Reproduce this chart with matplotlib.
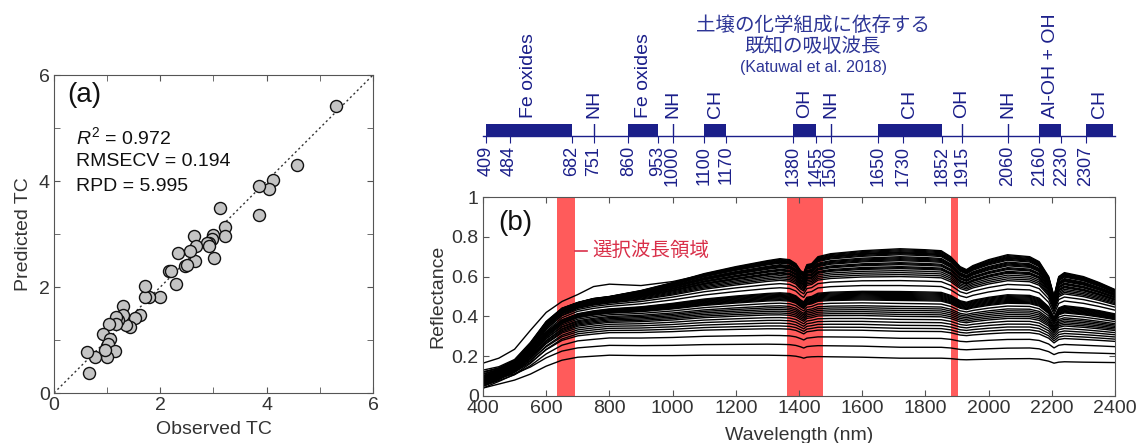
import numpy as np
import matplotlib
matplotlib.use("Agg")
import matplotlib.pyplot as plt
from matplotlib.ticker import MultipleLocator

plt.rcParams['font.family'] = ['Liberation Sans', 'Noto Sans CJK JP', 'DejaVu Sans']
plt.rcParams['mathtext.fontset'] = 'custom'
plt.rcParams['mathtext.rm'] = 'Liberation Sans'
plt.rcParams['mathtext.it'] = 'Liberation Sans:italic'

# --- (a) observed vs predicted TC ---
obs_tc = [5.31, 4.57, 4.11, 4.05, 3.86, 3.86, 3.12, 3.22, 3.22, 2.99, 2.97, 2.92, 2.87,
          2.91, 3.01, 2.63, 2.67, 2.66, 2.56, 2.34, 2.47, 2.51, 2.17, 2.21, 2.30, 1.99,
          1.78, 1.72, 1.72, 1.61, 1.52, 1.43, 1.35, 1.30, 1.29, 1.21, 1.16, 1.16, 1.03,
          0.92, 1.05, 0.99, 1.02, 1.14, 0.99, 0.77, 0.63, 0.66, 0.96]
pred_tc = [5.42, 4.30, 4.01, 3.85, 3.90, 3.35, 3.49, 3.14, 2.96, 2.98, 2.90, 2.83, 2.83,
           2.77, 2.55, 2.96, 2.78, 2.50, 2.68, 2.64, 2.39, 2.41, 2.31, 2.31, 2.05, 1.82,
           1.81, 1.82, 2.02, 1.47, 1.41, 1.24, 1.28, 1.65, 1.48, 1.37, 1.43, 1.31, 1.31,
           1.12, 1.02, 0.89, 0.93, 0.80, 0.68, 0.68, 0.77, 0.38, 0.82]
stats_lines = [r'$R^{\mathrm{2}}$ = 0.972', 'RMSECV = 0.194', 'RPD = 5.995']

# --- (b) spectra: knot wavelengths, top and bottom curve shapes, levels at 1720 nm ---
knots_nm = [400, 450, 500, 550, 600, 650, 700, 750, 800, 900, 1000, 1100, 1200, 1300,
            1340, 1370, 1390, 1405, 1415, 1425, 1440, 1460, 1500, 1600, 1720, 1800, 1850,
            1880, 1910, 1930, 1950, 2000, 2060, 2130, 2160, 2190, 2207, 2222, 2240, 2300,
            2350, 2400]
top_curve = [0.11, 0.13, 0.17, 0.26, 0.37, 0.44, 0.47, 0.49, 0.50, 0.53, 0.57, 0.615, 0.65,
             0.68, 0.69, 0.685, 0.665, 0.63, 0.62, 0.66, 0.665, 0.70, 0.715, 0.73, 0.74,
             0.735, 0.73, 0.70, 0.65, 0.635, 0.655, 0.685, 0.71, 0.70, 0.675, 0.60, 0.50,
             0.60, 0.62, 0.60, 0.57, 0.535]
bottom_curve = [0.04, 0.06, 0.08, 0.11, 0.15, 0.18, 0.195, 0.20, 0.205, 0.203, 0.203, 0.205,
                0.205, 0.205, 0.204, 0.203, 0.20, 0.195, 0.19, 0.195, 0.197, 0.198, 0.197,
                0.195, 0.19, 0.19, 0.19, 0.188, 0.183, 0.182, 0.183, 0.185, 0.187, 0.188,
                0.185, 0.175, 0.165, 0.17, 0.172, 0.17, 0.169, 0.168]
odd_curve = [0.165, 0.19, 0.235, 0.33, 0.42, 0.475, 0.51, 0.55, 0.562, 0.555, 0.575, 0.61,
             0.64, 0.665, 0.675, 0.67, 0.65, 0.615, 0.605, 0.645, 0.65, 0.685, 0.70, 0.715,
             0.72, 0.715, 0.71, 0.68, 0.635, 0.62, 0.64, 0.67, 0.695, 0.685, 0.66, 0.585,
             0.49, 0.585, 0.605, 0.585, 0.555, 0.52]
levels_1720 = [0.74, 0.735, 0.73, 0.725, 0.72, 0.715, 0.71, 0.70, 0.695, 0.69, 0.685, 0.68,
               0.67, 0.665, 0.66, 0.65, 0.645, 0.64, 0.63, 0.62, 0.61, 0.60,
               0.58, 0.555,
               0.525, 0.52, 0.515, 0.51, 0.505, 0.50, 0.495, 0.49, 0.485, 0.48,
               0.465, 0.45, 0.44, 0.43, 0.42, 0.41, 0.40, 0.385, 0.37, 0.355, 0.34, 0.325,
               0.29, 0.245, 0.19]
# reflectance of each spectrum at 400 nm (same order as levels_1720)
refl_400 = [0.12, 0.10, 0.13, 0.09, 0.11, 0.12, 0.08, 0.10, 0.11, 0.09, 0.12, 0.07,
            0.10, 0.08, 0.11, 0.09, 0.10, 0.07, 0.09, 0.08, 0.10, 0.06,
            0.09, 0.07,
            0.07, 0.09, 0.06, 0.08, 0.07, 0.10, 0.06, 0.08, 0.05, 0.09,
            0.07, 0.06, 0.08, 0.05, 0.07, 0.06, 0.05, 0.07, 0.05, 0.06, 0.04, 0.06,
            0.05, 0.07, 0.04]

sel_start = [635, 1363, 1881]
sel_end = [690, 1477, 1904]

# --- absorption bands (Katuwal et al. 2018) ---
bar_start = [409, 860, 1100, 1380, 1650, 2160, 2307]
bar_end = [682, 953, 1170, 1455, 1852, 2230, 2395]
bar_names = ['Fe oxides', 'Fe oxides', 'CH', 'OH', 'CH', 'Al-OH + OH', 'CH']
line_nm = [751, 1000, 1500, 1915, 2060]
line_names = ['NH', 'NH', 'NH', 'OH', 'NH']
band_ticks = [409, 484, 682, 751, 860, 953, 1000, 1100, 1170, 1380, 1455, 1500, 1650,
              1730, 1852, 1915, 2060, 2160, 2230, 2307]

navy = '#1b1f8a'
blue_txt = '#2d3596'
gray = '#333333'

fig = plt.figure(figsize=(11.38, 4.43), dpi=100)
W, H = 1138, 443

# ---------- (a) ----------
ax1 = fig.add_axes([54 / W, 1 - 393 / H, 319 / W, 318 / H])
ax1.plot([0, 6], [0, 6], ls=(0, (1.5, 2)), color='#333333', lw=1, zorder=1)
ax1.scatter(obs_tc, pred_tc, s=75, facecolor='#c4c4c4', edgecolor='#111111', lw=1, zorder=3)
ax1.set_xlim(0, 6)
ax1.set_ylim(0, 6)
ax1.xaxis.set_major_locator(MultipleLocator(2))
ax1.yaxis.set_major_locator(MultipleLocator(2))
ax1.xaxis.set_minor_locator(MultipleLocator(1))
ax1.yaxis.set_minor_locator(MultipleLocator(1))
ax1.tick_params(which='both', direction='in', top=True, right=True, length=4,
                color='#555555', labelsize=14, labelcolor=gray, pad=3)
ax1.set_xlabel('Observed TC', fontsize=14, color=gray, labelpad=5)
ax1.set_ylabel('Predicted TC', fontsize=14, color=gray, labelpad=5)
for sp in ax1.spines.values():
    sp.set_color('#555555')
ax1.text(0.24, 5.62, '(a)', fontsize=20, va='center', ha='left', color='#111111')
for i, s in enumerate(stats_lines):
    ax1.text(0.42, 4.83 - i * 0.47, s, fontsize=14, va='center', ha='left', color='#111111')

# ---------- (b) ----------
ax2 = fig.add_axes([483 / W, 1 - 396 / H, 632 / W, 199 / H])
for a, b in zip(sel_start, sel_end):
    ax2.axvspan(a, b, color='#ff5b5b', lw=0, zorder=1)

wl = np.array(knots_nm)
top = np.array(top_curve)
bot = np.array(bottom_curve)
vis_w = np.clip(1 - (wl - 400) / 280, 0, 1)
for lev, r400 in zip(levels_1720, refl_400):
    t = (lev - 0.19) / (0.74 - 0.19)
    curve = lev * ((1 - t) * bot / 0.19 + t * top / 0.74)
    curve = curve + (r400 - curve[0]) * vis_w
    ax2.plot(wl, curve, color='black', lw=1.0, zorder=2)
ax2.plot(wl, odd_curve, color='black', lw=1.0, zorder=2)

ax2.set_xlim(400, 2400)
ax2.set_ylim(0, 1)
ax2.xaxis.set_major_locator(MultipleLocator(200))
ax2.set_yticks([0, 0.2, 0.4, 0.6, 0.8, 1.0])
ax2.set_yticklabels(['0', '0.2', '0.4', '0.6', '0.8', '1'])
ax2.tick_params(direction='in', top=True, right=True, length=4, color='#555555',
                labelsize=14, labelcolor=gray, pad=3)
ax2.set_xlabel('Wavelength (nm)', fontsize=14, color=gray, labelpad=7)
ax2.set_ylabel('Reflectance', fontsize=14, color=gray, labelpad=4)
for sp in ax2.spines.values():
    sp.set_color('#555555')
ax2.text(447, 0.87, '(b)', fontsize=20, va='center', ha='left', color='#111111')
ax2.plot([691, 729], [0.73, 0.73], color='#d9304a', lw=1.2)
ax2.text(745, 0.73, '選択波長領域', fontsize=14, va='center', ha='left', color='#d9304a',
         family=['Noto Sans CJK JP'])

# ---------- absorption band strip ----------
axb = fig.add_axes([483 / W, 1 - 136 / H, 632 / W, 12 / H])
axb.set_xlim(400, 2400)
axb.set_ylim(0, 1)
for a, b in zip(bar_start, bar_end):
    axb.bar(a, 1, width=b - a, align='edge', color=navy, lw=0)
for a, b, name in zip(bar_start, bar_end, bar_names):
    axb.text((a + b) / 2, 1.5, name, rotation=90, ha='center', va='bottom',
             fontsize=14, color=navy)
for x, name in zip(line_nm, line_names):
    axb.plot([x, x], [0, 1], color=navy, lw=1)
    axb.text(x, 1.5, name, rotation=90, ha='center', va='bottom', fontsize=14, color=navy)
for k in ['top', 'left', 'right']:
    axb.spines[k].set_visible(False)
axb.spines['bottom'].set_color(navy)
axb.spines['bottom'].set_linewidth(1)
axb.set_yticks([])
axb.set_xticks(band_ticks)
axb.set_xticklabels([str(v) for v in band_ticks], rotation=90)
axb.tick_params(axis='x', direction='out', length=5, color=navy, labelcolor=navy,
                labelsize=13, pad=2)
axb.patch.set_visible(False)

# ---------- title ----------
fig.text(813 / W, 1 - 25.7 / H, '土壌の化学組成に依存する', ha='center', va='center',
         fontsize=14, color=blue_txt, family=['Noto Sans CJK JP'])
fig.text(813 / W, 1 - 47 / H, '既知の吸収波長', ha='center', va='center',
         fontsize=14, color=blue_txt, family=['Noto Sans CJK JP'])
fig.text(813 / W, 1 - 67.5 / H, '(Katuwal et al. 2018)', ha='center', va='center',
         fontsize=11.5, color=blue_txt)

fig.savefig('out.png', dpi=100)
